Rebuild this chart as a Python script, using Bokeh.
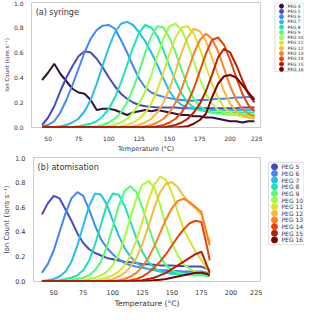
from bokeh.plotting import figure
from bokeh.layouts import column, row
from bokeh.models import Label, FixedTicker, PrintfTickFormatter, Range1d
from bokeh.core.properties import value
from bokeh.palettes import Turbo256
from bokeh.embed import file_html
from bokeh.resources import INLINE

# ---------------- data: (a) syringe ----------------
SYR_T = [45, 50, 55, 60, 65, 70, 75, 80, 85, 90, 95, 100,
         105, 110, 115, 120, 125, 130, 135, 140, 145, 150, 155, 160,
         165, 170, 175, 180, 185, 190, 195, 200, 205, 210, 215, 220]

SYR_PEG4 = [0.38, 0.44, 0.51, 0.43, 0.37, 0.31, 0.28, 0.27, 0.22, 0.14, 0.15, 0.15,
            0.14, 0.12, 0.10, 0.12, 0.13, 0.14, 0.13, 0.14, 0.13, 0.12, 0.11, 0.10,
            0.10, 0.09, 0.09, 0.08, 0.08, 0.07, 0.06, 0.05, 0.05, 0.04, 0.05, 0.05]
SYR_PEG5 = [0.02, 0.08, 0.17, 0.29, 0.40, 0.49, 0.57, 0.61, 0.60, 0.55, 0.48, 0.40,
            0.33, 0.27, 0.23, 0.20, 0.18, 0.17, 0.165, 0.16, 0.16, 0.16, 0.16, 0.155,
            0.155, 0.155, 0.155, 0.155, 0.155, 0.155, 0.155, 0.155, 0.155, 0.16, 0.16, 0.16]
SYR_PEG6 = [0.01, 0.02, 0.05, 0.12, 0.22, 0.34, 0.47, 0.60, 0.71, 0.78, 0.815, 0.82,
            0.79, 0.70, 0.60, 0.49, 0.39, 0.32, 0.28, 0.26, 0.245, 0.235, 0.225, 0.22,
            0.215, 0.215, 0.22, 0.22, 0.225, 0.23, 0.23, 0.235, 0.24, 0.24, 0.245, 0.24]
SYR_PEG7 = [0.0, 0.0, 0.005, 0.01, 0.02, 0.04, 0.07, 0.13, 0.22, 0.35, 0.50, 0.64,
            0.76, 0.83, 0.845, 0.82, 0.76, 0.69, 0.60, 0.50, 0.39, 0.29, 0.22, 0.18,
            0.16, 0.15, 0.145, 0.14, 0.14, 0.14, 0.14, 0.14, 0.14, 0.14, 0.14, 0.14]
SYR_PEG8 = [0.0, 0.0, 0.0, 0.0, 0.0, 0.005, 0.01, 0.02, 0.03, 0.05, 0.09, 0.15,
            0.24, 0.36, 0.50, 0.64, 0.76, 0.82, 0.80, 0.73, 0.62, 0.49, 0.37, 0.27,
            0.20, 0.16, 0.14, 0.13, 0.12, 0.12, 0.12, 0.12, 0.12, 0.12, 0.12, 0.12]
SYR_PEG9 = [0.0, 0.0, 0.0, 0.0, 0.0, 0.0, 0.0, 0.0, 0.005, 0.01, 0.02, 0.04,
            0.07, 0.12, 0.20, 0.31, 0.45, 0.60, 0.73, 0.81, 0.80, 0.72, 0.60, 0.46,
            0.33, 0.23, 0.17, 0.14, 0.12, 0.11, 0.11, 0.10, 0.10, 0.10, 0.10, 0.10]
SYR_PEG10 = [0.0, 0.0, 0.0, 0.0, 0.0, 0.0, 0.0, 0.0, 0.0, 0.0, 0.0, 0.01,
             0.02, 0.04, 0.07, 0.12, 0.19, 0.29, 0.42, 0.57, 0.71, 0.81, 0.83, 0.78,
             0.67, 0.53, 0.39, 0.27, 0.19, 0.14, 0.12, 0.10, 0.10, 0.09, 0.09, 0.09]
SYR_PEG11 = [0.0, 0.0, 0.0, 0.0, 0.0, 0.0, 0.0, 0.0, 0.0, 0.0, 0.0, 0.0,
             0.0, 0.01, 0.02, 0.04, 0.07, 0.12, 0.19, 0.30, 0.44, 0.59, 0.72, 0.80,
             0.81, 0.75, 0.63, 0.49, 0.35, 0.24, 0.16, 0.12, 0.10, 0.09, 0.08, 0.08]
SYR_PEG12 = [0.0, 0.0, 0.0, 0.0, 0.0, 0.0, 0.0, 0.0, 0.0, 0.0, 0.0, 0.0,
             0.0, 0.0, 0.0, 0.01, 0.02, 0.04, 0.07, 0.12, 0.20, 0.31, 0.45, 0.60,
             0.72, 0.79, 0.77, 0.69, 0.56, 0.42, 0.29, 0.19, 0.13, 0.10, 0.08, 0.07]
SYR_PEG13 = [0.0, 0.0, 0.0, 0.0, 0.0, 0.0, 0.0, 0.0, 0.0, 0.0, 0.0, 0.0,
             0.0, 0.0, 0.0, 0.0, 0.0, 0.01, 0.02, 0.04, 0.07, 0.12, 0.20, 0.31,
             0.45, 0.59, 0.70, 0.75, 0.71, 0.61, 0.47, 0.33, 0.22, 0.15, 0.11, 0.09]
SYR_PEG14 = [0.0, 0.0, 0.0, 0.0, 0.0, 0.0, 0.0, 0.0, 0.0, 0.0, 0.0, 0.0,
             0.0, 0.0, 0.0, 0.0, 0.0, 0.0, 0.0, 0.01, 0.02, 0.04, 0.07, 0.12,
             0.20, 0.31, 0.45, 0.59, 0.70, 0.72, 0.66, 0.54, 0.40, 0.27, 0.18, 0.13]
SYR_PEG15 = [0.0, 0.0, 0.0, 0.0, 0.0, 0.0, 0.0, 0.0, 0.0, 0.0, 0.0, 0.0,
             0.0, 0.0, 0.0, 0.0, 0.0, 0.0, 0.0, 0.0, 0.0, 0.01, 0.02, 0.04,
             0.07, 0.12, 0.19, 0.29, 0.42, 0.56, 0.63, 0.60, 0.50, 0.38, 0.27, 0.20]
SYR_PEG16 = [0.0, 0.0, 0.0, 0.0, 0.0, 0.0, 0.0, 0.0, 0.0, 0.0, 0.0, 0.0,
             0.0, 0.0, 0.0, 0.0, 0.0, 0.0, 0.0, 0.0, 0.0, 0.0, 0.0, 0.005,
             0.01, 0.03, 0.06, 0.11, 0.24, 0.35, 0.41, 0.42, 0.40, 0.34, 0.28, 0.22]

# ---------------- data: (b) atomisation ----------------
ATM_T = [40, 45, 50, 55, 60, 65, 70, 75, 80, 85,
         90, 95, 100, 105, 110, 115, 120, 125, 130, 135,
         140, 145, 150, 155, 160, 165, 170, 175, 180, 182]

ATM_PEG5 = [0.54, 0.63, 0.69, 0.67, 0.58, 0.49, 0.39, 0.31, 0.26, 0.23,
            0.21, 0.19, 0.18, 0.17, 0.16, 0.155, 0.15, 0.14, 0.14, 0.135,
            0.13, 0.13, 0.13, 0.125, 0.125, 0.12, 0.12, 0.12, 0.10, 0.09]
ATM_PEG6 = [0.07, 0.14, 0.25, 0.40, 0.55, 0.67, 0.72, 0.69, 0.58, 0.45,
            0.34, 0.27, 0.22, 0.18, 0.15, 0.13, 0.12, 0.11, 0.10, 0.095,
            0.09, 0.09, 0.085, 0.085, 0.08, 0.08, 0.08, 0.08, 0.07, 0.06]
ATM_PEG7 = [0.005, 0.01, 0.02, 0.04, 0.08, 0.16, 0.29, 0.45, 0.61, 0.71,
            0.70, 0.62, 0.49, 0.37, 0.27, 0.20, 0.15, 0.12, 0.10, 0.09,
            0.08, 0.075, 0.07, 0.07, 0.07, 0.065, 0.065, 0.06, 0.06, 0.05]
ATM_PEG8 = [0.0, 0.0, 0.005, 0.01, 0.02, 0.03, 0.05, 0.09, 0.17, 0.30,
            0.46, 0.62, 0.71, 0.70, 0.61, 0.48, 0.35, 0.24, 0.16, 0.11,
            0.08, 0.07, 0.06, 0.06, 0.055, 0.055, 0.05, 0.05, 0.05, 0.04]
ATM_PEG9 = [0.0, 0.0, 0.0, 0.0, 0.005, 0.01, 0.02, 0.03, 0.05, 0.09,
            0.16, 0.28, 0.44, 0.61, 0.73, 0.77, 0.72, 0.60, 0.45, 0.31,
            0.20, 0.13, 0.09, 0.07, 0.06, 0.05, 0.05, 0.05, 0.045, 0.04]
ATM_PEG10 = [0.0, 0.0, 0.0, 0.0, 0.0, 0.0, 0.005, 0.01, 0.02, 0.03,
             0.05, 0.08, 0.13, 0.22, 0.35, 0.52, 0.67, 0.78, 0.81, 0.76,
             0.62, 0.45, 0.31, 0.21, 0.14, 0.10, 0.08, 0.07, 0.06, 0.05]
ATM_PEG11 = [0.0, 0.0, 0.0, 0.0, 0.0, 0.0, 0.0, 0.0, 0.005, 0.01,
             0.02, 0.03, 0.05, 0.08, 0.13, 0.21, 0.33, 0.48, 0.65, 0.78,
             0.845, 0.82, 0.72, 0.56, 0.42, 0.33, 0.24, 0.17, 0.10, 0.07]
ATM_PEG12 = [0.0, 0.0, 0.0, 0.0, 0.0, 0.0, 0.0, 0.0, 0.0, 0.0,
             0.005, 0.01, 0.02, 0.04, 0.07, 0.12, 0.19, 0.30, 0.44, 0.59,
             0.72, 0.79, 0.80, 0.76, 0.69, 0.63, 0.59, 0.54, 0.38, 0.32]
ATM_PEG13 = [0.0, 0.0, 0.0, 0.0, 0.0, 0.0, 0.0, 0.0, 0.0, 0.0,
             0.0, 0.0, 0.005, 0.01, 0.02, 0.04, 0.07, 0.12, 0.19, 0.28,
             0.39, 0.50, 0.59, 0.65, 0.667, 0.64, 0.60, 0.56, 0.36, 0.29]
ATM_PEG14 = [0.0, 0.0, 0.0, 0.0, 0.0, 0.0, 0.0, 0.0, 0.0, 0.0,
             0.0, 0.0, 0.0, 0.0, 0.005, 0.01, 0.02, 0.04, 0.07, 0.11,
             0.16, 0.22, 0.29, 0.36, 0.42, 0.47, 0.49, 0.48, 0.27, 0.17]
ATM_PEG15 = [0.0, 0.0, 0.0, 0.0, 0.0, 0.0, 0.0, 0.0, 0.0, 0.0,
             0.0, 0.0, 0.0, 0.0, 0.0, 0.0, 0.005, 0.01, 0.02, 0.03,
             0.05, 0.07, 0.10, 0.13, 0.16, 0.19, 0.22, 0.24, 0.12, 0.07]
ATM_PEG16 = [0.0, 0.0, 0.0, 0.0, 0.0, 0.0, 0.0, 0.0, 0.0, 0.0,
             0.0, 0.0, 0.0, 0.0, 0.0, 0.0, 0.0, 0.0, 0.005, 0.01,
             0.015, 0.02, 0.03, 0.04, 0.05, 0.06, 0.07, 0.07, 0.06, 0.05]

PEG_NUMBERS = [4, 5, 6, 7, 8, 9, 10, 11, 12, 13, 14, 15, 16]
SYR_SERIES = [SYR_PEG4, SYR_PEG5, SYR_PEG6, SYR_PEG7, SYR_PEG8, SYR_PEG9, SYR_PEG10,
              SYR_PEG11, SYR_PEG12, SYR_PEG13, SYR_PEG14, SYR_PEG15, SYR_PEG16]
ATM_SERIES = [ATM_PEG5, ATM_PEG6, ATM_PEG7, ATM_PEG8, ATM_PEG9, ATM_PEG10,
              ATM_PEG11, ATM_PEG12, ATM_PEG13, ATM_PEG14, ATM_PEG15, ATM_PEG16]

X_TICKS = [50, 75, 100, 125, 150, 175, 200, 225]
Y_TICKS = [0.0, 0.2, 0.4, 0.6, 0.8, 1.0]

# colour per PEG number (turbo colormap, 13 steps)
PEG_COLOR = {n: Turbo256[round(i * 255 / 12)] for i, n in enumerate(PEG_NUMBERS)}

FONT = "DejaVu Sans"
TXT = "#333333"
PANEL_H = 155
PLOT_W = 262
LEG_W = 42


def make_plot(temps, series, pegs, title, x_start, tick_fs, ylab_fs, xlab_fs):
    p = figure(width=PLOT_W, height=PANEL_H, output_backend="svg", toolbar_location=None,
               x_range=Range1d(x_start, 225), y_range=Range1d(0, 1.0),
               min_border_left=16, min_border_right=2, min_border_top=2,
               min_border_bottom=17)
    p.xgrid.visible = False
    p.ygrid.visible = False
    p.outline_line_color = "#cccccc"
    p.outline_line_width = 1
    p.background_fill_color = "white"
    p.border_fill_color = "white"

    for ax in (p.xaxis[0], p.yaxis[0]):
        ax.axis_line_color = None
        ax.major_tick_line_color = None
        ax.minor_tick_line_color = None
        ax.major_label_text_font = FONT
        ax.major_label_text_font_size = tick_fs
        ax.major_label_text_color = TXT
        ax.axis_label_text_font = FONT
        ax.axis_label_text_font_style = "normal"
        ax.axis_label_text_color = TXT
        ax.major_label_standoff = 2
        ax.axis_label_standoff = 1
    p.xaxis.ticker = FixedTicker(ticks=X_TICKS)
    p.yaxis.ticker = FixedTicker(ticks=Y_TICKS)
    p.yaxis.formatter = PrintfTickFormatter(format="%.1f")
    p.xaxis.axis_label = "Temperature (°C)"
    p.yaxis.axis_label = "Ion Count (ions s⁻¹)"
    p.xaxis.axis_label_text_font_size = xlab_fs
    p.yaxis.axis_label_text_font_size = ylab_fs

    for n, vals in zip(pegs, series):
        p.line(temps, vals, line_color=PEG_COLOR[n], line_width=2)

    p.add_layout(Label(x=x_start + 3.4, y=0.92, text=title, text_font=FONT,
                       text_font_size="8px", text_color=TXT, text_baseline="middle"))
    return p


def make_legend(pegs, box, y0, step, mx, tx, msize, fs):
    # a key drawn in its own small figure whose units are pixels from its top-left
    lg = figure(width=LEG_W, height=PANEL_H, output_backend="svg", toolbar_location=None,
                x_range=Range1d(0, LEG_W), y_range=Range1d(PANEL_H, 0),
                x_axis_type=None, y_axis_type=None, min_border=0)
    lg.outline_line_color = None
    lg.background_fill_color = "white"
    lg.border_fill_color = "white"
    left, right, top, bottom = box
    lg.quad(left=[left], right=[right], top=[top], bottom=[bottom],
            fill_color="white", line_color="#dddddd", line_width=1)
    ys = [y0 + i * step for i in range(len(pegs))]
    cols = [PEG_COLOR[n] for n in pegs]
    labels = [f"PEG {n}" for n in pegs]
    lg.scatter([mx] * len(pegs), ys, marker="circle", size=msize,
               fill_color=cols, line_color=cols)
    lg.text([tx] * len(pegs), ys, text=labels, text_font=value(FONT),
            text_font_size=value(fs), text_color=value(TXT), text_baseline="middle",
            text_align="left")
    return lg


top_plot = make_plot(SYR_T, SYR_SERIES, PEG_NUMBERS, "(a) syringe", 36.25,
                     "6px", "5.5px", "6.5px")
top_leg = make_legend(PEG_NUMBERS, (12.5, 41.5, 0.5, 85.5), 4.5, 6.53, 19, 25, 4, "4.4px")

bottom_plot = make_plot(ATM_T, ATM_SERIES, PEG_NUMBERS[1:], "(b) atomisation", 32.9,
                        "6.5px", "7px", "7.5px")
bottom_leg = make_legend(PEG_NUMBERS[1:], (6, 41.5, 6, 109), 11.7, 8.3, 12, 19, 6, "6px")

layout = column(row(top_plot, top_leg, spacing=0),
                row(bottom_plot, bottom_leg, spacing=0), spacing=0)
open("out.html", "w").write(file_html(layout, INLINE))
